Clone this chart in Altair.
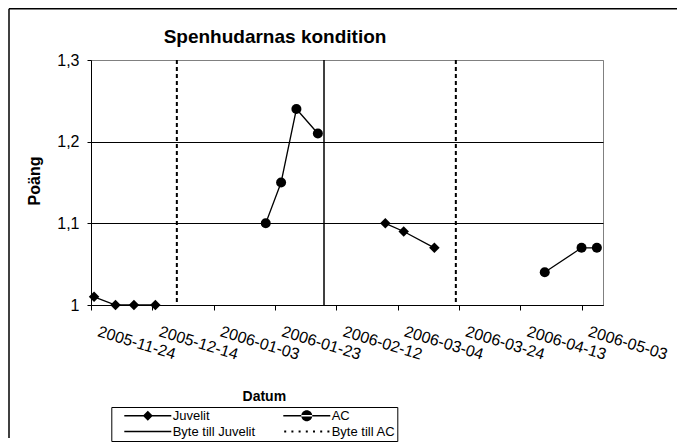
import altair as alt
import pandas as pd

title_text = "Spenhudarnas kondition"
x_title = "Datum"
y_title = "Poäng"

juvelit_dates = ["2005-11-25", "2005-12-02", "2005-12-08", "2005-12-15",
                 "2006-02-28", "2006-03-06", "2006-03-16"]
juvelit_values = [1.01, 1.00, 1.00, 1.00, 1.10, 1.09, 1.07]
juvelit_period = [1, 1, 1, 1, 2, 2, 2]

ac_dates = ["2006-01-20", "2006-01-25", "2006-01-30", "2006-02-06",
            "2006-04-21", "2006-05-03", "2006-05-08"]
ac_values = [1.10, 1.15, 1.24, 1.21, 1.04, 1.07, 1.07]
ac_period = [1, 1, 1, 1, 2, 2, 2]

switch_to_juvelit = ["2006-02-08"]
switch_to_ac = ["2005-12-22", "2006-03-23"]

x_ticks = ["2005-11-24", "2005-12-14", "2006-01-03", "2006-01-23", "2006-02-12",
           "2006-03-04", "2006-03-24", "2006-04-13", "2006-05-03"]
x_range = ["2005-11-24", "2006-05-10"]
y_ticks = [1.0, 1.1, 1.2, 1.3]
y_range = [1.0, 1.3]

legend_labels = ["Juvelit", "AC", "Byte till Juvelit", "Byte till AC"]

FONT = "Liberation Sans, Arial, sans-serif"


def dt(s):
    y, m, d = (int(p) for p in s.split("-"))
    return alt.DateTime(year=y, month=m, date=d, utc=True)


juv_df = pd.DataFrame({"date": juvelit_dates, "value": juvelit_values, "period": juvelit_period})
ac_df = pd.DataFrame({"date": ac_dates, "value": ac_values, "period": ac_period})
sw_juv_df = pd.DataFrame({"date": switch_to_juvelit})
sw_ac_df = pd.DataFrame({"date": switch_to_ac})
legend_df = pd.DataFrame({"entry": legend_labels})

x_enc = alt.X(
    "date:T",
    scale=alt.Scale(type="utc", domain=[dt(x_range[0]), dt(x_range[1])]),
    axis=alt.Axis(
        values=[dt(s) for s in x_ticks],
        labelExpr="utcFormat(datum.value, '%Y-%m-%d')",
        labelAngle=17, labelAlign="left", labelBaseline="top",
        labelPadding=13, labelOffset=9, labelFontSize=16, labelFont=FONT,
        labelColor="black", labelOverlap=False, labelFlush=False,
        tickSize=5, tickColor="black", domainColor="black", grid=False,
        title=x_title, titleX=172.8, titleY=95.7, titleBaseline="alphabetic",
        titleAlign="center", titleFontSize=14, titleFont=FONT,
        titleFontWeight="bold", titleColor="black",
    ),
)

y_enc = alt.Y(
    "value:Q",
    scale=alt.Scale(domain=y_range, nice=False, zero=False),
    axis=alt.Axis(
        values=y_ticks,
        labelExpr="replace(format(datum.value, '.1~f'), '.', ',')",
        tickSize=4, tickColor="black", domainColor="black",
        labelPadding=8, labelFontSize=16, labelFont=FONT, labelColor="black",
        grid=True,
        gridColor=alt.condition("datum.value >= 1.29", alt.value("#808080"), alt.value("black")),
        gridWidth=1,
        title=y_title, titleX=-51.9, titleY=120.5, titleAngle=270,
        titleBaseline="alphabetic", titleAlign="center", titleFontSize=16,
        titleFont=FONT, titleFontWeight="bold", titleColor="black",
    ),
)

rule_ac = alt.Chart(sw_ac_df).mark_rule(color="black", strokeWidth=2, strokeDash=[4, 3]).encode(x=x_enc)
rule_juv = alt.Chart(sw_juv_df).mark_rule(color="black", strokeWidth=1.5).encode(x=x_enc)

line_juv = alt.Chart(juv_df).mark_line(color="black", strokeWidth=1.3).encode(
    x=x_enc, y=y_enc, detail="period:N")
pts_juv = alt.Chart(juv_df).mark_point(shape="diamond", filled=True, size=110,
                                        color="black", opacity=1).encode(x=x_enc, y=y_enc)
line_ac = alt.Chart(ac_df).mark_line(color="black", strokeWidth=1.3).encode(
    x=x_enc, y=y_enc, detail="period:N")
pts_ac = alt.Chart(ac_df).mark_point(shape="circle", filled=True, size=100,
                                      color="black", opacity=1).encode(x=x_enc, y=y_enc)

# legend symbols drawn as filled shapes (unit = 5 px, symbol centre 6.5 px into the entry)
stub = "M-1.3,-0.13H8.1V0.13H-1.3Z"
dots = "".join(f"M{3.4 + c - 0.2:.2f},-0.2h0.4v0.4h-0.4Z"
               for c in [-4.32, -2.88, -1.44, 0, 1.44, 2.88, 4.32])
legend_paths = [
    stub + "M3.4,-1L4.4,0L3.4,1L2.4,0Z",
    stub + "M2.3,0A1.1,1.1,0,1,0,4.5,0A1.1,1.1,0,1,0,2.3,0Z",
    stub,
    dots,
]

legend_layer = alt.Chart(legend_df).mark_point(filled=True, color="black", size=100, opacity=0).encode(
    shape=alt.Shape(
        "entry:N",
        scale=alt.Scale(domain=legend_labels, range=legend_paths),
        legend=alt.Legend(
            title=" ", titleOrient="left", titleFontSize=4, titlePadding=11,
            orient="none", legendX=20.3, legendY=347, columns=2,
            direction="horizontal",
            padding=2, strokeColor="black", fillColor="white",
            rowPadding=2, columnPadding=28, labelOffset=35.4,
            labelFontSize=13, labelFont=FONT, labelColor="black", labelLimit=300,
            symbolSize=100, symbolStrokeWidth=0, symbolFillColor="black",
            symbolOpacity=1,
        ),
    )
)

frame_df = pd.DataFrame({"k": [0]})
frame_left = alt.Chart(frame_df).mark_rule(color="black", strokeWidth=1.5).encode(
    x=alt.value(-82), y=alt.value(-51.25), y2=alt.value(378))
frame_top = alt.Chart(frame_df).mark_rule(color="black", strokeWidth=1.5).encode(
    x=alt.value(-82), x2=alt.value(586), y=alt.value(-51.25))

chart = alt.layer(
    rule_ac, rule_juv, line_juv, pts_juv, line_ac, pts_ac, legend_layer, frame_left, frame_top
).properties(
    width=512, height=245, padding=0, background="white",
    title=alt.TitleParams(
        text=title_text, font=FONT,
        fontSize=19, fontWeight="bold", color="black", anchor="middle",
        dx=-72, baseline="alphabetic", offset=0, dy=54,
    ),
).configure_view(stroke="#808080", strokeWidth=1)

chart.save("out.html", embed_options={"renderer": "svg", "actions": False})
